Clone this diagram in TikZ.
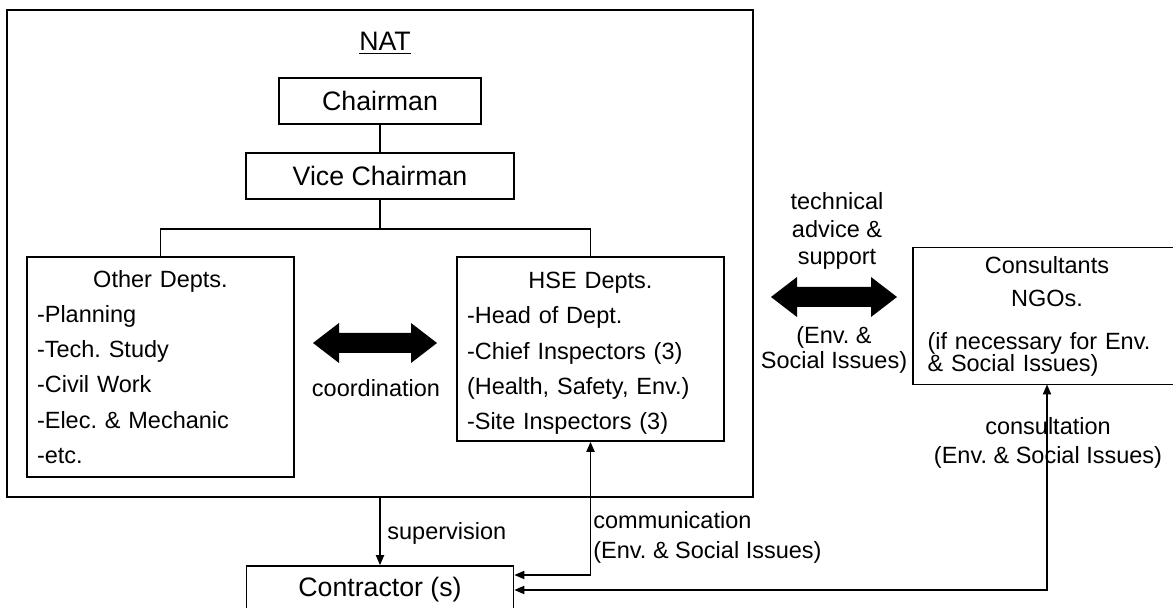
\documentclass[tikz,border=0pt]{standalone}
\usepackage{fontspec}
\setmainfont{Liberation Sans}
\usetikzlibrary{arrows.meta,calc}
\setlength{\parindent}{0pt}
\frenchspacing
\newcommand{\bigtxt}{\fontsize{13.35}{16}\selectfont}
\newcommand{\smalltxt}{\fontsize{11.75}{17.6}\selectfont}
% fat two-headed arrow between two tip points
\newcommand{\fatarrow}[2]{%
  \fill (#1) -- ++(26,-20) -- ++(0,10) -- ($(#2)+(-26,-10)$) -- ++(0,-10) -- (#2)
    -- ++(-26,20) -- ++(0,-10) -- ($(#1)+(26,10)$) -- ++(0,10) -- cycle;}

\begin{document}
\begin{tikzpicture}[x=0.5pt, y=-0.5pt,
  frame/.style={draw, line width=0.8pt},
  box/.style={frame, inner sep=0pt, align=center, font=\bigtxt},
  listbox/.style={frame, text width=123.5pt, inner xsep=5pt, inner ysep=2pt, font=\smalltxt},
  lbl/.style={inner sep=0pt, align=center, font=\smalltxt},
  arr/.style={->, line width=0.9pt},
  >={Triangle[length=5pt,width=4pt]}
]
\useasboundingbox (0,0) rectangle (1173,608);
\clip (0,0) rectangle (1173,608);

% NAT frame
\node[frame, minimum width=373pt, minimum height=243.5pt] (nat) at (380,253.5) {};
\node[font=\bigtxt] (natlbl) at (385,43) {\underline{NAT}};

\node[box, minimum width=101pt, minimum height=23pt] (chair) at (380,101) {Chairman};
\node[box, minimum width=134pt, minimum height=23pt] (vice) at (380,176) {Vice Chairman};

\node[listbox, minimum height=110pt] (other) at (160.5,367)
  {{\centering Other Depts.\par}-Planning\par -Tech. Study\par -Civil Work\par
   -Elec. \& Mechanic\par -etc.};
\node[listbox, minimum height=92pt] (hse) at (590.5,349)
  {{\centering\rule{0pt}{12.6pt}HSE Depts.\par}-Head of Dept.\par -Chief Inspectors (3)\par
   (Health, Safety, Env.)\par -Site Inspectors (3)};

\node[text width=119.5pt, inner xsep=7pt, inner ysep=2pt, minimum height=68pt,
      font=\fontsize{11.75}{16.5}\selectfont] (cons) at (1047,316)
  {{\centering Consultants\par NGOs.\par}\vspace{10.5pt}%
   {\fontsize{11.75}{11}\selectfont\lineskiplimit=-10pt (if necessary for Env.\\
    \& Social Issues)\par}};
% box runs off the right edge
\draw[frame] (cons.north west) rectangle ($(cons.south east)+(30,0)$);

\node[box, minimum width=133.5pt, minimum height=24pt] (contr) at (380,590) {Contractor (s)};

% tree lines
\draw[line width=0.8pt] (chair) -- (vice);
\draw[line width=0.8pt] (vice.south) -- ++(0,29) coordinate (split) -| (other.north);
\draw[line width=0.8pt] (split) -| (hse.north);

% fat arrows
\coordinate (coordL) at (313,343);
\coordinate (coordR) at (437,343);
\fatarrow{coordL}{coordR}
\node[lbl] (coordlbl) at (376,388) {coordination};

\coordinate (techL) at (771,297);
\coordinate (techR) at (897,297);
\fatarrow{techL}{techR}
\node[lbl, font=\fontsize{11.75}{13.75}\selectfont] (techlbl) at (837,231) {technical\\advice \&\\support};
\node[lbl, font=\fontsize{11.75}{12.5}\selectfont] (techenv) at (834,350) {(Env. \&\\Social Issues)};

% links to the contractor
\draw[arr] (nat.south) -- (contr.north);
\node[lbl, anchor=west] (suplbl) at (387,533) {supervision};

\draw[arr, <->] (hse.south) |- ([yshift=7.5pt]contr.east);
\node[lbl, align=left, anchor=west, font=\fontsize{11.75}{15}\selectfont] (comlbl) at (593,537)
  {communication\\(Env. \& Social Issues)};

\draw[arr, <->] (contr.east) -| (cons.south);
\node[lbl, font=\fontsize{11.75}{14.5}\selectfont] (conslbl) at (1048,443)
  {consultation\\(Env. \& Social Issues)};
\end{tikzpicture}
\end{document}
